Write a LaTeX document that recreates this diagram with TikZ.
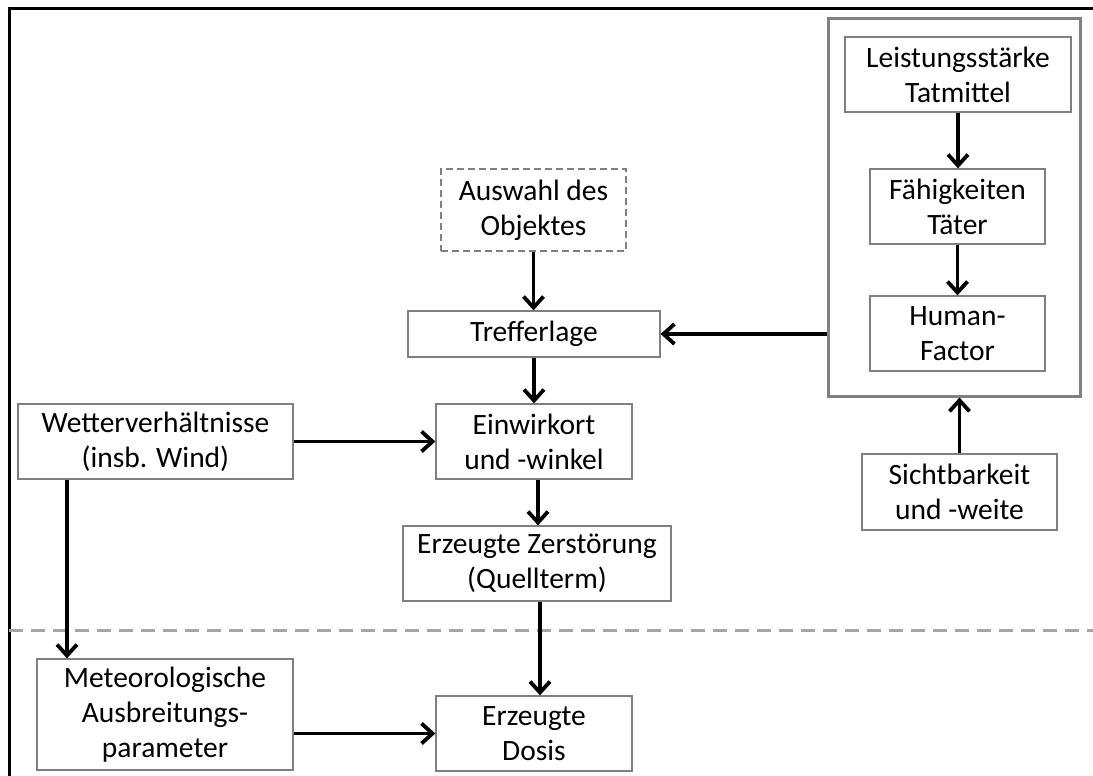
\documentclass[tikz,border=0pt]{standalone}
\usepackage{fontspec}
\setmainfont{Carlito}
\usetikzlibrary{arrows.meta}
\begin{document}
\begin{tikzpicture}[x=1pt,y=-1pt,
  box/.style={draw=black!50,line width=1.3pt,fill=white,align=center,inner sep=0pt,
    font=\fontsize{29.5}{35}\selectfont},
  arr/.style={line width=3.8pt,-{Straight Barb[length=11pt,width=20pt,line width=3.8pt]}},
  grpbox/.style={draw=black!50,line width=3pt,inner sep=0pt}]
\useasboundingbox (0,0) rectangle (1093,776);
\draw[line width=3pt] (9,776) -- (9,9) -- (1093,9);
\draw[black!35,line width=3pt,dash pattern=on 14pt off 8pt] (9,630) -- (1093,630);

\node[grpbox,minimum width=252pt,minimum height=377pt] (grp) at (954,207.5) {};
\node[box,minimum width=226pt,minimum height=75pt] (lt) at (958,74.5) {Leistungsstärke\\Tatmittel};
\node[box,minimum width=175pt,minimum height=75pt] (ft) at (957.5,206.5) {Fähigkeiten\\Täter};
\node[box,minimum width=175pt,minimum height=75pt] (hf) at (957.5,333.5) {Human-\\Factor};
\node[box,minimum width=195pt,minimum height=76pt] (sw) at (959.5,492) {Sichtbarkeit\\und -weite};

\node[box,dashed,dash pattern=on 7pt off 4pt,minimum width=185pt,minimum height=82pt] (ao) at (533.5,210) {Auswahl des\\Objektes};
\node[box,minimum width=252pt,minimum height=46pt] (tl) at (534,334) {Trefferlage};
\node[box,minimum width=196pt,minimum height=75pt] (ew) at (534,441.5) {Einwirkort\\und -winkel};
\node[box,minimum width=275pt,minimum height=75pt] (wv) at (155.5,441.5) {Wetterverhältnisse\\(insb. Wind)};
\node[box,minimum width=268pt,minimum height=75pt] (ez) at (537,563.5) {Erzeugte Zerstörung\\(Quellterm)};
\node[box,minimum width=256pt,minimum height=111pt] (mp) at (165,714.5) {Meteorologische\\Ausbreitungs-\\parameter};
\node[box,minimum width=196pt,minimum height=75pt] (ed) at (534,733.5) {Erzeugte\\Dosis};

\draw[arr] (lt.south) -- (lt.south |- ft.north);
\draw[arr] (ft.south) -- (hf.north);
\draw[arr] (tl.east -| grp.west) -- (tl.east);
\draw[arr] (sw.north) -- (sw.north |- grp.south);
\draw[arr] (ao.south) -- (ao.south |- tl.north);
\draw[arr] (tl.south) -- (tl.south |- ew.north);
\draw[arr] (wv.east) -- (wv.east -| ew.west);
\draw[arr] ([xshift=4pt]ew.south) -- ([xshift=4pt]ew.south |- ez.north);
\draw[arr] ([xshift=-88.5pt]wv.south) -- ([xshift=-88.5pt]wv.south |- mp.north);
\draw[arr] ([xshift=3pt]ez.south) -- ([xshift=3pt]ez.south |- ed.north);
\draw[arr] (ed.west -| mp.east) -- (ed.west);
\end{tikzpicture}
\end{document}
